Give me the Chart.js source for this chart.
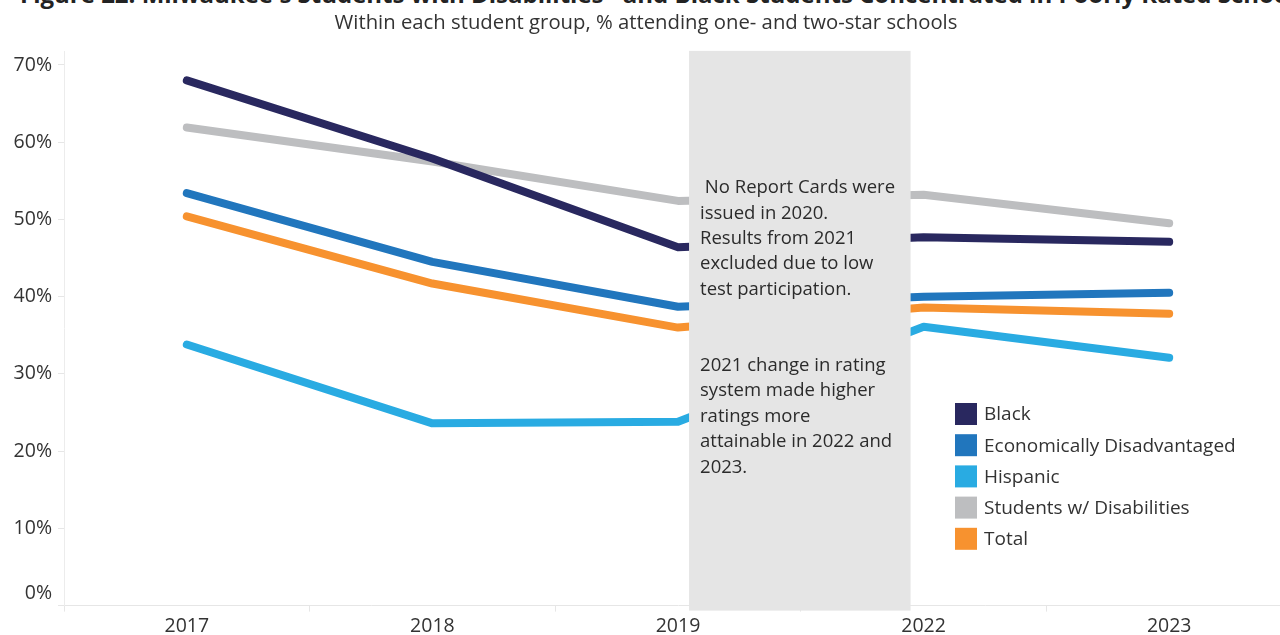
<!DOCTYPE html>
<html>
<head>
<meta charset="utf-8">
<script src="https://cdn.jsdelivr.net/npm/chart.js@4/dist/chart.umd.min.js"></script>
<style>
  html, body { margin: 0; padding: 0; background: #fff; overflow: hidden; width: 1280px; height: 635px; }
  #wrap { position: relative; width: 1280px; height: 635px; overflow: hidden; }
  #title { position: absolute; left: 20px; top: -23px; font: bold 24px "Open Sans", sans-serif; color: #222; white-space: nowrap; }
  canvas { position: absolute; left: 0; top: 0; }
</style>
</head>
<body>
<div id="wrap">
  <div id="title">Figure 22: Milwaukee's Students with Disabilities* and Black Students Concentrated in Poorly Rated Schools</div>
  <canvas id="c" width="1300" height="635"></canvas>
</div>
<script>
const categories = ['2017', '2018', '2019', '2022', '2023'];
const black = [68.0, 57.9, 46.4, 47.7, 47.1];
const econDisadvantaged = [53.4, 44.5, 38.7, 40.0, 40.5];
const hispanic = [33.8, 23.6, 23.8, 36.1, 32.1];
const disabilities = [61.9, 57.5, 52.4, 53.2, 49.5];
const total = [50.4, 41.7, 36.0, 38.6, 37.8];
const yTicks = [0, 10, 20, 30, 40, 50, 60, 70];
const seriesLabels = ['Black', 'Economically Disadvantaged', 'Hispanic', 'Students w/ Disabilities', 'Total'];
const seriesColors = ['#29285f', '#2176bd', '#29abe2', '#bdbec0', '#f7922f'];
const noteText = [' No Report Cards were', 'issued in 2020.', 'Results from 2021', 'excluded due to low', 'test participation.', '', '', '2021 change in rating', 'system made higher', 'ratings more', 'attainable in 2022 and', '2023.'];

const FONT = '"Open Sans", sans-serif';
const seriesData = [black, econDisadvantaged, hispanic, disabilities, total];

const boxPlugin = {
  id: 'gapBox',
  afterDatasetsDraw(chart) {
    const ctx = chart.ctx, x = chart.scales.x, area = chart.chartArea;
    const band = x.getPixelForValue(1) - x.getPixelForValue(0);
    const x0 = x.getPixelForValue(2) + 0.045 * band;
    const x1 = x.getPixelForValue(3) - 0.053 * band;
    ctx.save();
    ctx.fillStyle = '#e5e5e5';
    ctx.fillRect(x0, area.top - 1, x1 - x0, area.bottom - area.top + 6);
    ctx.fillStyle = '#2b2b2b';
    ctx.font = '18.5px ' + FONT;
    ctx.textBaseline = 'middle';
    ctx.textAlign = 'left';
    noteText.forEach((t, i) => ctx.fillText(t, x0 + 11, 188 + i * 25.4));
    // legend
    ctx.font = '19px ' + FONT;
    seriesLabels.forEach((lab, i) => {
      const cy = 414 + i * 31.2;
      ctx.fillStyle = seriesColors[i];
      ctx.fillRect(955, cy - 11, 22, 22);
      ctx.fillStyle = '#333';
      ctx.fillText(lab, 984, cy + 1);
    });
    ctx.restore();
  }
};

new Chart(document.getElementById('c'), {
  type: 'line',
  data: {
    labels: categories,
    datasets: seriesLabels.map((lab, i) => ({
      label: lab,
      data: seriesData[i],
      borderColor: seriesColors[i],
      backgroundColor: seriesColors[i],
      borderWidth: 8,
      borderCapStyle: 'round',
      borderJoinStyle: 'round',
      pointRadius: 0,
      tension: 0,
      fill: false
    }))
  },
  options: {
    responsive: false,
    animation: false,
    layout: { padding: { left: 0, right: 8, top: 0, bottom: 0 } },
    plugins: {
      legend: { display: false },
      tooltip: { enabled: false },
      title: { display: false },
      subtitle: {
        display: true,
        text: 'Within each student group, % attending one- and two-star schools',
        color: '#333',
        font: { family: FONT, size: 20.3, weight: 'normal' },
        padding: { top: 11, bottom: 16.5 }
      }
    },
    scales: {
      x: {
        offset: true,
        afterFit(s) { s.height = 27; },
        grid: { offset: true, drawOnChartArea: false, color: '#e6e6e6', tickLength: 6 },
        border: { color: '#e6e6e6' },
        ticks: { color: '#333', font: { family: FONT, size: 19.5 }, padding: 3, maxRotation: 0 }
      },
      y: {
        min: 0,
        max: 71.7,
        afterFit(s) { s.width = 64; },
        afterBuildTicks(s) { s.ticks = yTicks.map(v => ({ value: v })); },
        grid: { drawOnChartArea: false, color: '#e6e6e6', tickLength: 6 },
        border: { color: '#ececec' },
        ticks: {
          color: '#333',
          font: { family: FONT, size: 19.5 },
          padding: 6,
          callback: v => v === 0 ? ['0%', ''] : v + '%'
        }
      }
    }
  },
  plugins: [boxPlugin]
});
</script>
</body>
</html>
